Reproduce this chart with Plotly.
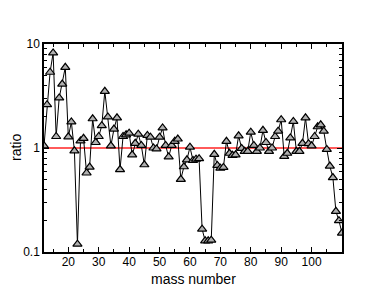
import plotly.graph_objects as go

mass = list(range(12, 111))
ratio = [1.05, 2.61, 5.35, 8.2, 1.29, 3.03, 4.12, 5.97, 1.28, 1.78,
         0.94, 0.119, 1.17, 1.24, 0.575, 0.656, 1.91, 1.13, 1.29, 1.64,
         3.51, 1.99, 1.05, 1.52, 1.95, 0.62, 1.29, 1.34, 1.39, 0.86,
         1.11, 1.36, 1.06, 0.69, 1.32, 1.27, 1.0, 0.98, 1.27, 1.56,
         1.06, 0.82, 1.06, 1.16, 1.22, 0.50, 0.66, 0.77, 1.02, 0.76,
         0.78, 0.79, 0.166, 0.128, 0.128, 0.13, 0.87, 0.68, 0.64, 0.65,
         1.16, 0.89, 0.85, 0.86, 1.31, 0.99, 0.93, 0.93, 1.42, 1.06,
         0.93, 1.0, 1.48, 1.13, 0.93, 1.0, 1.29, 1.45, 1.87, 0.83,
         0.89, 1.25, 1.80, 0.93, 0.93, 1.11, 1.95, 1.10, 1.05, 1.29,
         1.6, 1.67, 1.45, 0.97, 0.67, 0.52, 0.246, 0.2, 0.152]
x_range = [12, 110]
ref_level = 1.0
x_title = "mass number"
y_title = "ratio"

fig = go.Figure()
fig.add_trace(go.Scatter(
    x=[x_range[0], x_range[1]], y=[ref_level, ref_level], mode="lines",
    line=dict(color="#ff5a5a", width=2.2), hoverinfo="skip", showlegend=False))
fig.add_trace(go.Scatter(
    x=mass, y=ratio, mode="lines+markers",
    line=dict(color="black", width=1),
    marker=dict(symbol="triangle-up", size=8, color="#b0b0b0",
                line=dict(color="black", width=1.2)),
    showlegend=False))

font = "Liberation Sans, Arial"
axis_common = dict(
    showline=True, linecolor="black", linewidth=1.5, mirror="ticks",
    ticks="inside", tickcolor="black", showgrid=False, zeroline=False,
    automargin=False,
    tickfont=dict(family=font, size=12, color="black"),
)
fig.update_xaxes(
    range=x_range, tickmode="array", tickvals=[20, 30, 40, 50, 60, 70, 80, 90, 100],
    ticklen=5, tickwidth=1.2, ticklabelstandoff=-2,
    minor=dict(tickvals=[15, 25, 35, 45, 55, 65, 75, 85, 95, 105], ticklen=3,
               ticks="inside", tickcolor="black", tickwidth=1),
    **axis_common)
fig.update_yaxes(
    type="log", range=[-1, 1], tickmode="array", tickvals=[0.1, 1, 10],
    ticktext=["0.1", "1", "10"], ticklen=5, tickwidth=1.2,
    minor=dict(tickvals=[0.2, 0.3, 0.4, 0.5, 0.6, 0.7, 0.8, 0.9,
                         2, 3, 4, 5, 6, 7, 8, 9], ticklen=3,
               ticks="inside", tickcolor="black", tickwidth=1),
    **axis_common)
fig.add_annotation(text=x_title, xref="paper", yref="paper", x=0.5, y=0,
                   xanchor="center", yanchor="middle", yshift=-27, showarrow=False,
                   font=dict(family=font, size=14, color="black"))
fig.add_annotation(text=y_title, xref="paper", yref="paper", x=0, y=0.5,
                   xanchor="center", yanchor="middle", xshift=-28, textangle=-90,
                   showarrow=False, font=dict(family=font, size=14, color="black"))
fig.update_layout(
    width=385, height=298, margin=dict(l=36, r=51, t=36, b=54),
    plot_bgcolor="white", paper_bgcolor="white",
)
fig.write_html("out.html")
